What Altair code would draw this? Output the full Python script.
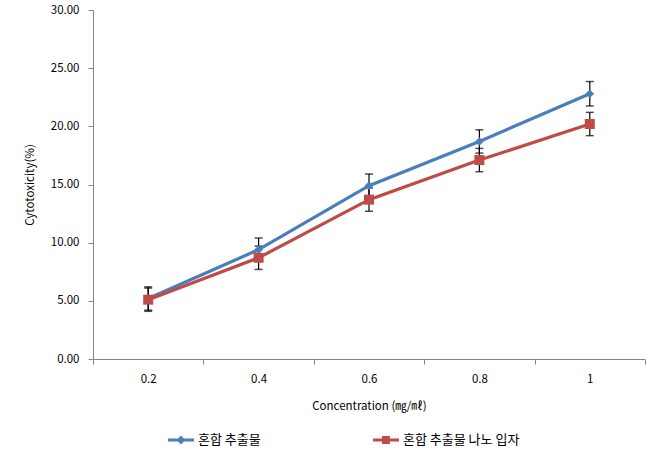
import altair as alt
import pandas as pd

conc = ["0.2", "0.4", "0.6", "0.8", "1"]
series_names = ["혼합 추출물", "혼합 추출물 나노 입자"]
mix = [5.2, 9.4, 14.9, 18.7, 22.8]
mix_err = [1.0, 1.0, 1.0, 1.0, 1.05]
nano = [5.1, 8.7, 13.7, 17.1, 20.2]
nano_err = [1.0, 1.0, 1.0, 1.0, 1.0]
colors = ["#4A7EBB", "#BE4B48"]
y_ticks = [0, 5, 10, 15, 20, 25, 30]

rows = []
for s, vals, errs in [(series_names[0], mix, mix_err), (series_names[1], nano, nano_err)]:
    for c, v, e in zip(conc, vals, errs):
        rows.append(dict(conc=c, series=s, value=v, lo=v - e, hi=v + e))
df = pd.DataFrame(rows)

FONT = "Noto Sans CJK KR"
AX = "#868686"

x_enc = alt.X(
    "conc:O",
    scale=alt.Scale(type="band", domain=conc, paddingInner=0, paddingOuter=0),
    axis=alt.Axis(
        title="Concentration (㎎/㎖)", labelAngle=0, tickBand="extent",
        domainColor=AX, tickColor=AX, tickSize=5, labelPadding=9,
        labelFont=FONT, labelFontSize=11.5, labelColor="black",
        titleFont=FONT, titleFontSize=11.5, titleFontWeight="normal", titleColor="black",
        titlePadding=16, grid=False,
    ),
)


def y_enc(field):
    return alt.Y(
        f"{field}:Q",
        scale=alt.Scale(domain=[0, 30], nice=False, zero=True),
        axis=alt.Axis(
            title="Cytotoxicity(%)", values=y_ticks, format=".2f", grid=False,
            domainColor=AX, tickColor=AX, tickSize=5, labelPadding=9,
            labelFont=FONT, labelFontSize=11.5, labelColor="black",
            titleFont=FONT, titleFontSize=11.5, titleFontWeight="normal", titleColor="black",
            titlePadding=15,
        ),
    )


base = alt.Chart(df)

err_rule = base.mark_rule(color="black", strokeWidth=1.2).encode(
    x=x_enc, y=y_enc("lo"), y2="hi:Q"
)
cap_lo = base.mark_tick(color="black", orient="horizontal", size=8, thickness=1.5).encode(
    x=x_enc, y=y_enc("lo")
)
cap_hi = base.mark_tick(color="black", orient="horizontal", size=8, thickness=1.5).encode(
    x=x_enc, y=y_enc("hi")
)

line_a = base.transform_filter(alt.datum.series == series_names[0]).mark_line(
    color=colors[0], strokeWidth=3.2
).encode(x=x_enc, y=y_enc("value"))
pt_a = base.transform_filter(alt.datum.series == series_names[0]).mark_point(
    shape="diamond", filled=True, size=75, color=colors[0], opacity=1
).encode(x=x_enc, y=y_enc("value"))
line_b = base.transform_filter(alt.datum.series == series_names[1]).mark_line(
    color=colors[1], strokeWidth=3.2
).encode(x=x_enc, y=y_enc("value"))
pt_b = base.transform_filter(alt.datum.series == series_names[1]).mark_point(
    shape="square", filled=True, size=100, color=colors[1], opacity=1
).encode(x=x_enc, y=y_enc("value"))

path_diamond = "M-1,-0.115H1V0.115H-1Z M0,-0.34L0.34,0L0,0.34L-0.34,0Z"
path_square = "M-1,-0.115H1V0.115H-1Z M-0.3,-0.3H0.3V0.3H-0.3Z"

leg = alt.Legend(
    title=None, orient="none", legendX=75, legendY=417, direction="horizontal",
    symbolSize=676, symbolStrokeWidth=0, symbolOpacity=1, labelFont=FONT,
    labelFontSize=13, labelColor="black", columnPadding=112, labelOffset=4, padding=0,
)

legend_layer = base.mark_point(filled=True, opacity=0).encode(
    x=x_enc,
    y=y_enc("value"),
    color=alt.Color("series:N", scale=alt.Scale(domain=series_names, range=colors), legend=leg),
    shape=alt.Shape("series:N", scale=alt.Scale(domain=series_names, range=[path_diamond, path_square]), legend=leg),
)

chart = alt.layer(err_rule, cap_lo, cap_hi, line_a, pt_a, line_b, pt_b, legend_layer).properties(
    width=552, height=349,
    padding={"left": 93, "top": 10, "right": 6, "bottom": 97},
    autosize=alt.AutoSizeParams(type="none"),
    background="white",
).configure_view(stroke=None)

chart.save("out.html", embed_options={"renderer": "svg", "actions": False})
